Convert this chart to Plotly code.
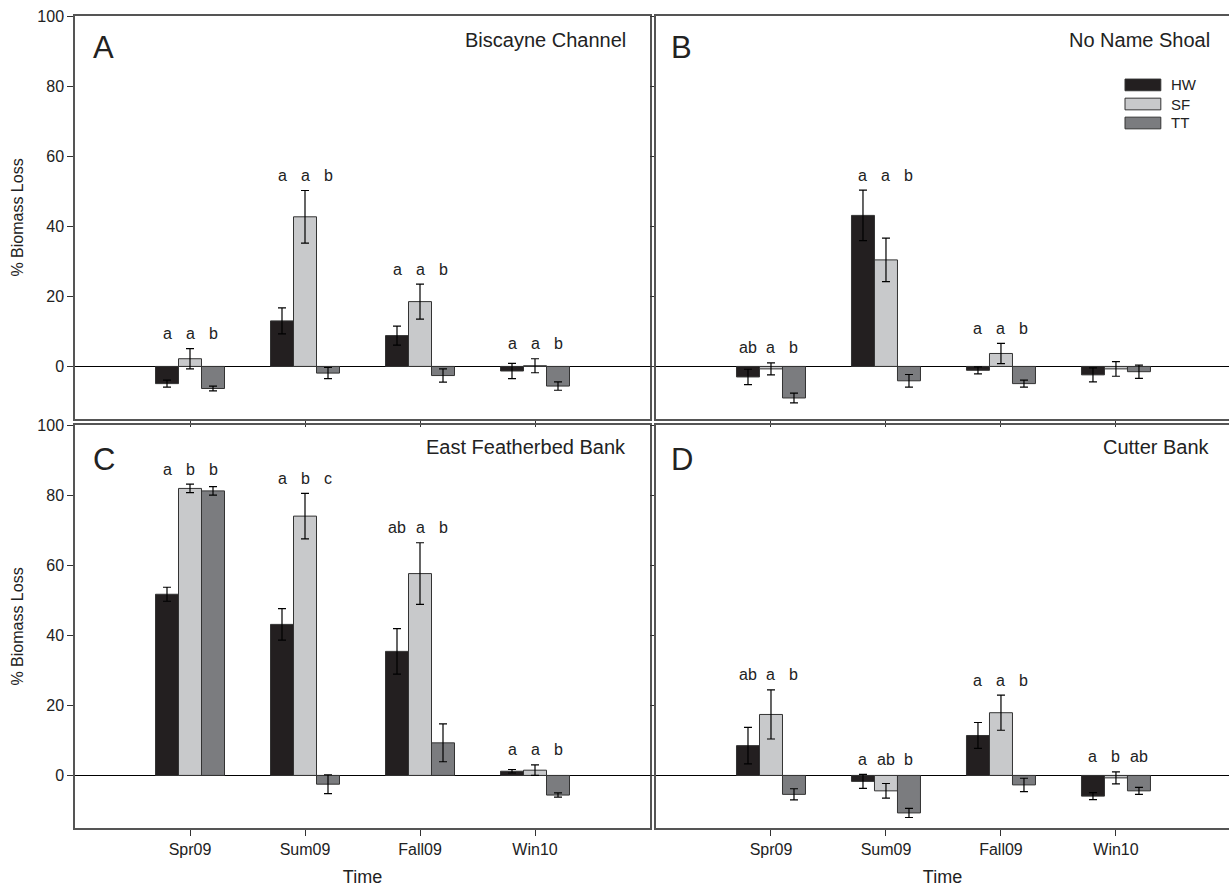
import plotly.graph_objects as go

categories = ["Spr09", "Sum09", "Fall09", "Win10"]
groups = ["HW", "SF", "TT"]

# Panel A - Biscayne Channel
A_HW = [-4.9, 13.0, 8.8, -1.3]
A_HW_err = [1.0, 3.7, 2.7, 2.2]
A_SF = [2.2, 42.7, 18.5, 0.2]
A_SF_err = [2.9, 7.5, 5.0, 2.0]
A_TT = [-6.3, -1.9, -2.6, -5.6]
A_TT_err = [0.7, 1.6, 1.9, 1.2]
A_letters = [["a", "a", "b"], ["a", "a", "b"], ["a", "a", "b"], ["a", "a", "b"]]

# Panel B - No Name Shoal
B_HW = [-3.0, 43.1, -1.1, -2.4]
B_HW_err = [2.2, 7.2, 1.0, 2.0]
B_SF = [-0.7, 30.4, 3.7, -0.7]
B_SF_err = [1.7, 6.2, 2.9, 2.1]
B_TT = [-9.0, -4.1, -4.9, -1.5]
B_TT_err = [1.4, 1.8, 1.0, 1.9]
B_letters = [["ab", "a", "b"], ["a", "a", "b"], ["a", "a", "b"], None]

# Panel C - East Featherbed Bank
C_HW = [51.7, 43.1, 35.4, 1.2]
C_HW_err = [2.0, 4.5, 6.5, 0.5]
C_SF = [81.9, 74.0, 57.6, 1.5]
C_SF_err = [1.2, 6.5, 8.8, 1.5]
C_TT = [81.2, -2.5, 9.3, -5.6]
C_TT_err = [1.2, 2.7, 5.4, 0.6]
C_letters = [["a", "b", "b"], ["a", "b", "c"], ["ab", "a", "b"], ["a", "a", "b"]]

# Panel D - Cutter Bank
D_HW = [8.5, -1.7, 11.4, -5.9]
D_HW_err = [5.2, 2.0, 3.7, 1.0]
D_SF = [17.4, -4.4, 17.9, -0.7]
D_SF_err = [7.0, 2.1, 5.0, 1.7]
D_TT = [-5.4, -10.7, -2.7, -4.4]
D_TT_err = [1.6, 1.3, 1.9, 1.0]
D_letters = [["ab", "a", "b"], ["a", "ab", "b"], ["a", "a", "b"], ["a", "b", "ab"]]

panel_titles = ["Biscayne Channel", "No Name Shoal", "East Featherbed Bank", "Cutter Bank"]
panel_tags = ["A", "B", "C", "D"]

colors = {"HW": "#231f20", "SF": "#c8c9cb", "TT": "#7b7c7f"}
FONT = "Liberation Sans, Arial, sans-serif"
FRAME = "#555555"
BARGAP = 0.4

panels = [
    ([A_HW, A_SF, A_TT], [A_HW_err, A_SF_err, A_TT_err], A_letters),
    ([B_HW, B_SF, B_TT], [B_HW_err, B_SF_err, B_TT_err], B_letters),
    ([C_HW, C_SF, C_TT], [C_HW_err, C_SF_err, C_TT_err], C_letters),
    ([D_HW, D_SF, D_TT], [D_HW_err, D_SF_err, D_TT_err], D_letters),
]

fig = go.Figure()
annotations = []
shapes = []

for p, (vals, errs, letters) in enumerate(panels):
    ax = "" if p == 0 else str(p + 1)
    for g, name in enumerate(groups):
        fig.add_trace(go.Bar(
            x=categories, y=vals[g], name=name,
            xaxis="x" + ax, yaxis="y" + ax,
            marker=dict(color=colors[name], line=dict(color="#333333", width=1)),
            error_y=dict(type="data", array=errs[g], visible=True, color="black",
                         thickness=1.2, width=4),
            showlegend=False,
        ))
    gw = 1 - BARGAP
    for i, labs in enumerate(letters):
        if labs is None:
            continue
        top = max(0, max(vals[g][i] + errs[g][i] for g in range(3)))
        for g, lab in enumerate(labs):
            annotations.append(dict(
                x=i + (g - 1) * gw / 3, y=top, xref="x" + ax, yref="y" + ax,
                text=lab, showarrow=False, yanchor="middle", yshift=15,
                font=dict(family=FONT, size=16, color="#222222")))
    # panel title & tag
    annotations.append(dict(
        x=0.962 if p % 2 == 0 else 0.970, y=0.94 if p < 2 else 0.945,
        xref="x" + ax + " domain", yref="y" + ax + " domain",
        text=panel_titles[p], showarrow=False, xanchor="right", yanchor="middle",
        font=dict(family=FONT, size=20, color="#222222")))
    annotations.append(dict(
        x=0.028 if p % 2 == 0 else 0.022, y=0.922 if p < 2 else 0.915,
        xref="x" + ax + " domain", yref="y" + ax + " domain",
        text=panel_tags[p], showarrow=False, xanchor="left", yanchor="middle",
        font=dict(family=FONT, size=31, color="#222222")))

# legend in panel B
leg_y = [0.829, 0.7816, 0.7345]
for g, name in enumerate(groups):
    shapes.append(dict(type="rect", xref="x2 domain", yref="y2 domain",
                       x0=0.8185, x1=0.881, y0=leg_y[g] - 0.0145, y1=leg_y[g] + 0.0145,
                       fillcolor=colors[name], line=dict(color="#333333", width=1)))
    annotations.append(dict(x=0.895, y=leg_y[g], xref="x2 domain", yref="y2 domain",
                            text=name, showarrow=False, xanchor="left", yanchor="middle",
                            font=dict(family=FONT, size=15, color="#222222")))

W, H = 1229, 887
ml, mr, mt, mb = 75, 0, 16, 59
pw, ph = W - ml - mr, H - mt - mb
left_dom = [0, 575 / pw]
right_dom = [581 / pw, 1]
top_dom = [409 / ph, 1]
bot_dom = [0, 403 / ph]


def xax(dom, anchor, labels, rng):
    d = dict(domain=dom, anchor=anchor, type="category", range=rng,
             showline=True, mirror=True, linecolor=FRAME, linewidth=1.5,
             ticks="outside", ticklen=6, tickcolor="#333333", tickwidth=1,
             showgrid=False, zeroline=False, showticklabels=labels,
             tickfont=dict(family=FONT, size=16, color="#222222"))
    if labels:
        d["title"] = dict(text="Time", font=dict(family=FONT, size=18, color="#222222"), standoff=13)
    return d


def yax(dom, anchor, labels, mirror):
    d = dict(domain=dom, anchor=anchor, range=[-15, 100],
             tickvals=[0, 20, 40, 60, 80, 100],
             showline=True, mirror=mirror, linecolor=FRAME, linewidth=1.5,
             ticks="outside", ticklen=6 if labels else 4, tickcolor="#333333", tickwidth=1,
             showgrid=False, zeroline=True, zerolinecolor="black", zerolinewidth=1,
             showticklabels=labels,
             tickfont=dict(family=FONT, size=16, color="#222222"))
    if labels:
        d["title"] = dict(text="% Biomass Loss", font=dict(family=FONT, size=16, color="#222222"), standoff=10)
    return d


fig.update_layout(
    width=W, height=H,
    margin=dict(l=ml, r=mr, t=mt, b=mb),
    paper_bgcolor="white", plot_bgcolor="white",
    barmode="group", bargap=BARGAP, bargroupgap=0,
    xaxis=xax(left_dom, "y", False, [-1, 4]),
    yaxis=yax(top_dom, "x", True, True),
    xaxis2=xax(right_dom, "y2", False, [-1, 3.983]),
    yaxis2=yax(top_dom, "x2", False, False),
    xaxis3=xax(left_dom, "y3", True, [-1, 4]),
    yaxis3=yax(bot_dom, "x3", True, True),
    xaxis4=xax(right_dom, "y4", True, [-1, 3.983]),
    yaxis4=yax(bot_dom, "x4", False, False),
    annotations=annotations,
    shapes=shapes,
    font=dict(family=FONT),
)

fig.write_html("out.html")
